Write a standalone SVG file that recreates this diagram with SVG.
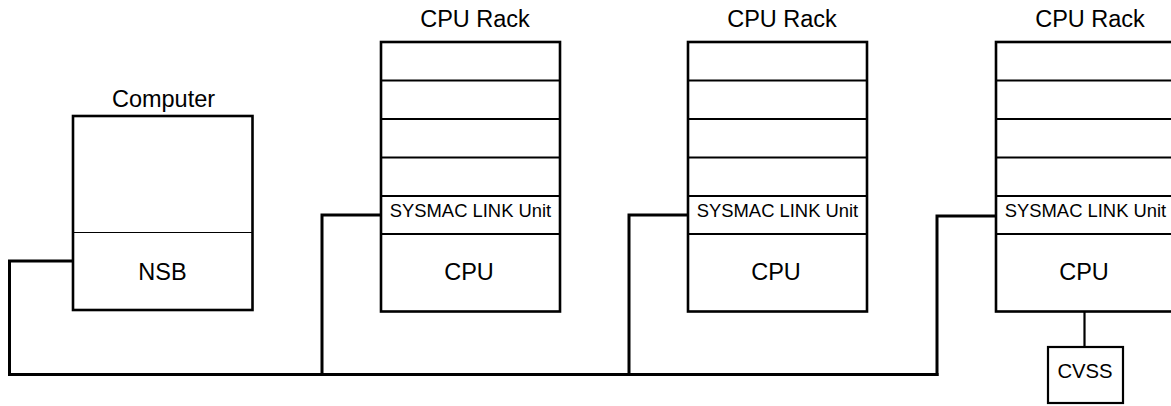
<svg xmlns="http://www.w3.org/2000/svg" width="1171" height="406" viewBox="0 0 1171 406">
<style>
.box{fill:#fff;stroke:#000;stroke-width:2.6}
.div{stroke:#000;stroke-width:2}
.thin{stroke:#000;stroke-width:1}
.bus{fill:none;stroke:#000;stroke-width:3;stroke-linejoin:miter;stroke-linecap:square}
.lbl{font-family:"Liberation Sans",Arial,sans-serif;font-size:23.5px;text-anchor:middle;fill:#000}
.unit{font-family:"Liberation Sans",Arial,sans-serif;font-size:18.4px;text-anchor:middle;fill:#000}
.cv{font-family:"Liberation Sans",Arial,sans-serif;font-size:20.3px;text-anchor:middle;fill:#000}
</style>
<rect width="1171" height="406" fill="#fff"/>
<g id="connectors">
<path class="bus" d="M73,261 H9.5 V374.5 H937"/>
<path class="bus" d="M322,374.5 V215 H381"/>
<path class="bus" d="M629,374.5 V215 H688"/>
<path class="bus" d="M937,374.5 V216 H996"/>
<line x1="1084.5" y1="311" x2="1084.5" y2="347" stroke="#000" stroke-width="2.2"/>
</g>
<g id="computer">
<text class="lbl" x="163.5" y="106.5">Computer</text>
<rect class="box" x="73" y="116" width="179.5" height="194"/>
<line class="thin" x1="73" y1="232.5" x2="252.5" y2="232.5"/>
<text class="lbl" x="162.5" y="279.5">NSB</text>
</g>
<g id="rack1">
<text class="lbl" x="475" y="27">CPU Rack</text>
<rect class="box" x="381" y="42" width="179" height="269.5"/>
<line class="div" x1="381" y1="80.5" x2="560" y2="80.5"/>
<line class="div" x1="381" y1="119" x2="560" y2="119"/>
<line class="div" x1="381" y1="157.5" x2="560" y2="157.5"/>
<line class="div" x1="381" y1="196" x2="560" y2="196"/>
<line class="div" x1="381" y1="234" x2="560" y2="234"/>
<text class="unit" x="470.5" y="216.7">SYSMAC LINK Unit</text>
<text class="lbl" x="469" y="279.5">CPU</text>
</g>
<g id="rack2">
<text class="lbl" x="782" y="27">CPU Rack</text>
<rect class="box" x="688" y="42" width="179" height="269.5"/>
<line class="div" x1="688" y1="80.5" x2="867" y2="80.5"/>
<line class="div" x1="688" y1="119" x2="867" y2="119"/>
<line class="div" x1="688" y1="157.5" x2="867" y2="157.5"/>
<line class="div" x1="688" y1="196" x2="867" y2="196"/>
<line class="div" x1="688" y1="234" x2="867" y2="234"/>
<text class="unit" x="777.5" y="216.7">SYSMAC LINK Unit</text>
<text class="lbl" x="776" y="279.5">CPU</text>
</g>
<g id="rack3">
<text class="lbl" x="1090" y="27">CPU Rack</text>
<rect class="box" x="996" y="42" width="179" height="269.5"/>
<line class="div" x1="996" y1="80.5" x2="1175" y2="80.5"/>
<line class="div" x1="996" y1="119" x2="1175" y2="119"/>
<line class="div" x1="996" y1="157.5" x2="1175" y2="157.5"/>
<line class="div" x1="996" y1="196" x2="1175" y2="196"/>
<line class="div" x1="996" y1="234" x2="1175" y2="234"/>
<text class="unit" x="1085.5" y="216.7">SYSMAC LINK Unit</text>
<text class="lbl" x="1084" y="279.5">CPU</text>
</g>
<g id="cvss">
<rect class="box" x="1048" y="347" width="75" height="56" style="stroke-width:2.2"/>
<text class="cv" x="1085" y="377.5">CVSS</text>
</g>
</svg>
